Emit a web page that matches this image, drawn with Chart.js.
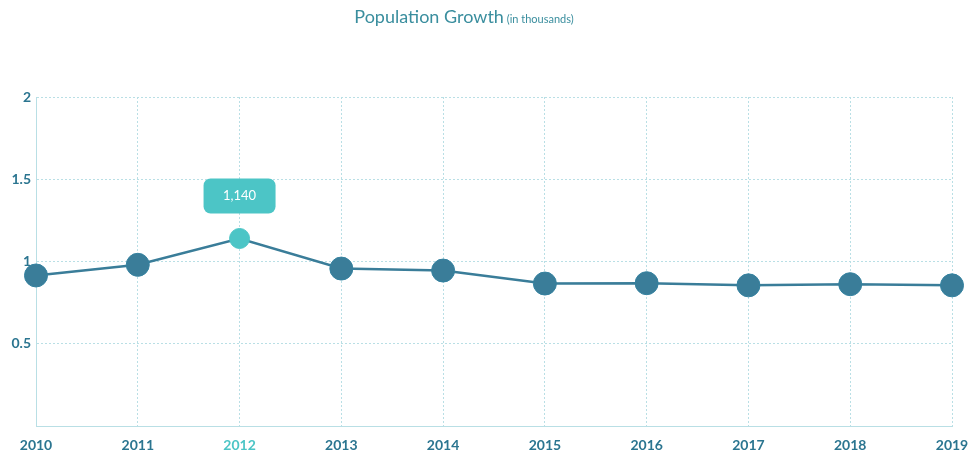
<!DOCTYPE html>
<html>
<head>
<meta charset="utf-8">
<script src="https://cdn.jsdelivr.net/npm/chart.js@4"></script>
<style>
  html, body { margin: 0; padding: 0; background: #fff; }
  #wrap { width: 972px; height: 456px; }
</style>
</head>
<body>
<div id="wrap"><canvas id="popChart"></canvas></div>
<script>
// data
const years = ['2010', '2011', '2012', '2013', '2014', '2015', '2016', '2017', '2018', '2019'];
const population = [0.915, 0.98, 1.14, 0.957, 0.945, 0.866, 0.868, 0.855, 0.862, 0.855];
const highlightIndex = 2;
const highlightLabel = '1,140';

const dark = '#3a7d99';
const teal = '#4cc5c6';
const gridColor = '#b9dfe5';

// title + bubble over the highlighted point
const extras = {
  id: 'extras',
  afterDraw(chart) {
    const ctx = chart.ctx;
    ctx.save();
    ctx.textBaseline = 'alphabetic';
    ctx.fillStyle = '#3a8e9e';
    const t1 = 'Population Growth';
    const t2 = ' (in thousands)';
    ctx.font = '18px Lato';
    const w1 = ctx.measureText(t1).width;
    ctx.font = '11px Lato';
    const w2 = ctx.measureText(t2).width;
    const x0 = 464 - (w1 + w2) / 2;
    ctx.font = '18px Lato';
    ctx.fillText(t1, x0, 23);
    ctx.font = '11px Lato';
    ctx.fillText(t2, x0 + w1, 23);

    const pt = chart.getDatasetMeta(0).data[highlightIndex];
    const bw = 72, bh = 35;
    const bx = pt.x - bw / 2, by = pt.y - 60;
    ctx.fillStyle = teal;
    ctx.beginPath();
    ctx.roundRect(bx, by, bw, bh, 7);
    ctx.fill();
    ctx.fillStyle = '#ffffff';
    ctx.font = '13px Lato';
    ctx.textAlign = 'center';
    ctx.textBaseline = 'middle';
    ctx.fillText(highlightLabel, pt.x, by + bh / 2);
    ctx.restore();
  }
};

const config = {
  type: 'line',
  data: {
    labels: years,
    datasets: [{
      data: population,
      borderColor: dark,
      borderWidth: 2.5,
      tension: 0,
      pointRadius: population.map((v, i) => i === highlightIndex ? 10 : 11.5),
      pointBackgroundColor: population.map((v, i) => i === highlightIndex ? teal : dark),
      pointBorderColor: population.map((v, i) => i === highlightIndex ? teal : '#3582a0'),
      pointBorderWidth: 1
    }]
  },
  options: {
    responsive: true,
    maintainAspectRatio: false,
    animation: false,
    layout: { padding: { top: 97, right: 20, left: 0, bottom: 0 } },
    plugins: {
      legend: { display: false },
      tooltip: { enabled: false }
    },
    scales: {
      x: {
        offset: false,
        grid: { color: gridColor, drawTicks: false },
        border: { color: gridColor, dash: [2, 2] },
        ticks: {
          padding: 11,
          maxRotation: 0,
          font: { family: 'Lato', size: 14, weight: 'bold' },
          color: (c) => c.index === highlightIndex ? teal : '#2b7590'
        },
        afterFit(scale) {
          scale.height = 30;
          scale.paddingLeft = 0;
          scale.paddingRight = 0;
        }
      },
      y: {
        min: 0,
        max: 2,
        grid: { color: gridColor, drawTicks: false },
        border: { color: gridColor, dash: [2, 2] },
        ticks: {
          stepSize: 0.5,
          padding: 5,
          font: { family: 'Lato', size: 14, weight: 'bold' },
          color: '#2b7590',
          callback: (v) => v === 0 ? '' : v
        },
        afterFit(scale) { scale.width = 36; }
      }
    }
  },
  plugins: [extras]
};

const popChart = new Chart(document.getElementById('popChart'), config);
</script>
</body>
</html>
